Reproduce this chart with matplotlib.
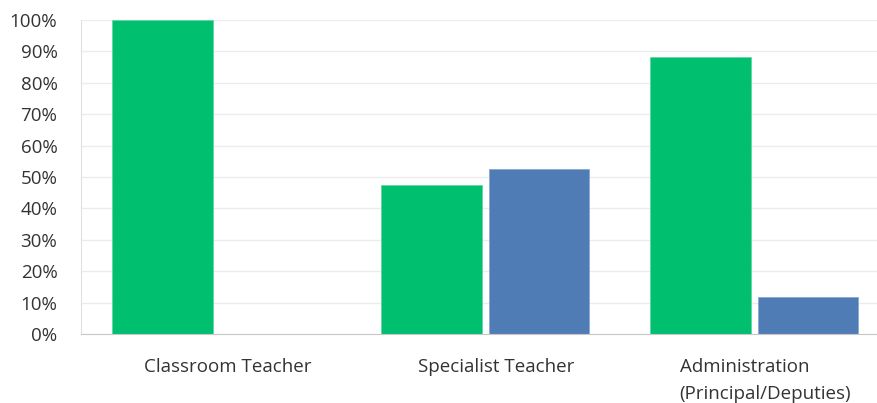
import matplotlib
matplotlib.use("Agg")
import matplotlib.pyplot as plt
import numpy as np

categories = ["Classroom Teacher", "Specialist Teacher", "Administration\n(Principal/Deputies)"]
series_green = [100.0, 47.37, 88.24]
series_blue = [0.0, 52.63, 11.76]
yticks = [0, 10, 20, 30, 40, 50, 60, 70, 80, 90, 100]
ytick_labels = [f"{v}%" for v in yticks]

plt.rcParams['font.family'] = ['Open Sans', 'DejaVu Sans']

fig = plt.figure(figsize=(8.77, 4.03), dpi=100)
ax = fig.add_axes([81/877, 1 - 334/403, 1 - 81/877, (334 - 20)/403])

x = np.arange(len(categories))
w = 0.372
off = 0.199
ax.bar(x - off, series_green, width=w, color="#00BF6F", edgecolor="#5fd9a3", linewidth=0.6, zorder=3)
ax.bar(x + off, series_blue, width=w, color="#507CB6", edgecolor="#8aa8d6", linewidth=0.6, zorder=3)

ax.set_xlim(-0.502, 2.457)
ax.set_ylim(0, 100)
ax.set_yticks(yticks)
ax.set_yticklabels(ytick_labels, fontsize=13.5, color="#333333")
ax.set_xticks(x + 0.042)
ax.set_xticklabels(categories, fontsize=13.5, color="#333333", linespacing=1.65,
                   va="top", ha="center", multialignment="left")
ax.tick_params(axis="y", length=0, pad=17)
ax.tick_params(axis="x", length=0, pad=17)

ax.grid(axis="y", color="#ececec", linewidth=1, zorder=0)
for s in ["top", "right"]:
    ax.spines[s].set_visible(False)
ax.spines["left"].set_color("#e0e0e0")
ax.spines["bottom"].set_color("#c8c8c8")
ax.spines["bottom"].set_zorder(4)

fig.savefig("out.png", dpi=100)
